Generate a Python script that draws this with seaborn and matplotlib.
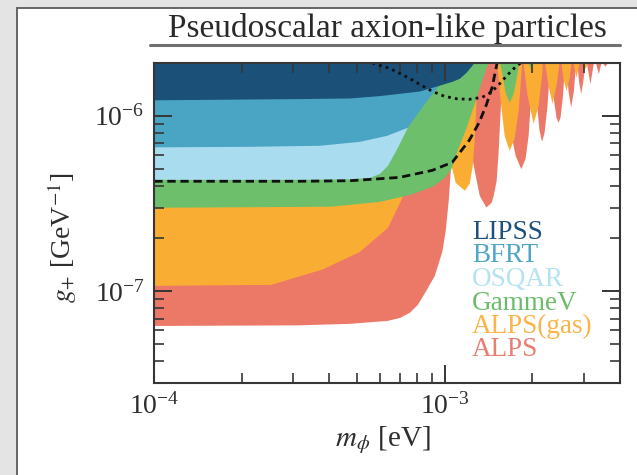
import matplotlib
matplotlib.use("Agg")
import matplotlib.pyplot as plt
import seaborn as sns
import pandas as pd
from matplotlib.patches import Rectangle
from matplotlib.lines import Line2D
from matplotlib.ticker import NullFormatter

# ---------------- data (mass m_phi [eV], coupling g_+ [GeV^-1]) ----------------
G_TOP = 1e-5  # limits run off the top of the chart (regions are "above the curve")

lipss_m = [1.0e-4, 3.16e-4, 4.70e-4, 5.95e-4, 8.16e-4, 9.56e-4, 1.06e-3, 1.12e-3, 1.18e-3, 1.23e-3, 1.26e-3, 1.29e-3]
lipss_g = [1.23e-6, 1.25e-6, 1.26e-6, 1.30e-6, 1.38e-6, 1.49e-6, 1.57e-6, 1.63e-6, 1.76e-6, 1.91e-6, 2.01e-6, 2.68e-6]

bfrt_m = [1.0e-4, 2.13e-4, 3.70e-4, 5.08e-4, 6.29e-4, 7.42e-4, 8.16e-4, 8.70e-4, 9.34e-4, 9.95e-4, 1.05e-3, 1.085e-3, 1.12e-3]
bfrt_g = [6.64e-7, 6.69e-7, 6.78e-7, 7.14e-7, 7.72e-7, 8.58e-7, 1.072e-6, 1.238e-6, 1.43e-6, 1.63e-6, 1.86e-6, 2.01e-6, 2.35e-6]

osqar_m = [1.0e-4, 3.16e-4, 4.70e-4, 5.50e-4, 5.95e-4, 6.34e-4, 6.86e-4, 7.42e-4, 8.03e-4, 8.56e-4, 8.97e-4, 9.19e-4]
osqar_g = [4.34e-7, 4.34e-7, 4.37e-7, 4.45e-7, 4.69e-7, 5.21e-7, 6.60e-7, 8.58e-7, 1.145e-6, 1.49e-6, 2.01e-6, 2.51e-6]

gammev_m = [1.0e-4, 4.01e-4, 5.95e-4, 7.54e-4, 9.04e-4, 9.95e-4, 1.05e-3, 1.101e-3, 1.146e-3, 1.183e-3,
            1.231e-3, 1.281e-3, 1.332e-3, 1.375e-3, 1.408e-3, 1.419e-3, 1.530e-3,
            1.542e-3, 1.573e-3, 1.610e-3, 1.662e-3, 1.716e-3, 1.757e-3, 1.792e-3, 1.806e-3, 1.924e-3,
            1.932e-3, 1.962e-3, 1.994e-3, 2.010e-3]
gammev_g = [3.01e-7, 3.05e-7, 3.25e-7, 3.56e-7, 3.96e-7, 4.45e-7, 5.01e-7, 6.35e-7, 7.52e-7, 8.58e-7,
            1.044e-6, 1.271e-6, 1.547e-6, 1.81e-6, 2.0e-6, G_TOP, G_TOP,
            2.0e-6, 1.696e-6, 1.357e-6, 1.19e-6, 1.339e-6, 1.63e-6, 2.0e-6, G_TOP, G_TOP,
            2.0e-6, 1.86e-6, 2.0e-6, G_TOP]

alps_gas_m = [1.0e-4, 2.515e-4, 3.79e-4, 5.08e-4, 6.34e-4, 7.03e-4, 7.66e-4, 8.29e-4, 8.84e-4, 9.26e-4, 9.56e-4, 9.67e-4,
              9.79e-4, 1.010e-3, 1.043e-3, 1.085e-3, 1.165e-3, 1.212e-3, 1.241e-3, 1.260e-3, 1.275e-3, 1.291e-3, 1.301e-3, 1.494e-3,
              1.506e-3, 1.548e-3, 1.598e-3, 1.662e-3, 1.729e-3, 1.785e-3, 1.828e-3, 1.842e-3,
              1.856e-3, 1.916e-3, 2.010e-3, 2.091e-3, 2.158e-3, 2.175e-3,
              2.201e-3, 2.262e-3, 2.335e-3, 2.410e-3, 2.468e-3, 2.487e-3,
              2.506e-3, 2.547e-3, 2.608e-3, 2.671e-3, 2.713e-3, 2.735e-3,
              2.756e-3, 2.822e-3, 2.890e-3, 2.913e-3,
              2.959e-3, 3.030e-3, 3.103e-3, 3.127e-3]
alps_gas_g = [1.082e-7, 1.096e-7, 1.343e-7, 1.689e-7, 2.313e-7, 3.296e-7, 4.57e-7, 6.35e-7, 9.40e-7, 1.393e-6, 2.0e-6, G_TOP,
              2.0e-6, 8.25e-7, 5.42e-7, 4.17e-7, 3.76e-7, 4.12e-7, 5.21e-7, 7.235e-7, 1.072e-6, 2.0e-6, G_TOP, G_TOP,
              2.0e-6, 1.222e-6, 7.72e-7, 6.35e-7, 7.43e-7, 1.072e-6, 1.81e-6, G_TOP,
              2.0e-6, 1.305e-6, 9.04e-7, 1.145e-6, 1.81e-6, G_TOP,
              2.0e-6, 1.488e-6, 1.175e-6, 1.488e-6, 2.0e-6, G_TOP,
              2.0e-6, 1.63e-6, 1.393e-6, 1.63e-6, 2.0e-6, G_TOP,
              2.0e-6, 1.652e-6, 2.0e-6, G_TOP,
              2.0e-6, 1.859e-6, 2.0e-6, G_TOP]

alps_m = [1.0e-4, 3.16e-4, 4.70e-4, 6.34e-4, 6.97e-4, 7.54e-4, 8.03e-4, 8.49e-4, 9.19e-4, 9.75e-4, 1.002e-3, 1.026e-3, 1.043e-3, 1.055e-3, 1.064e-3, 1.072e-3, 1.076e-3,
          1.085e-3, 1.137e-3, 1.193e-3, 1.251e-3, 1.312e-3, 1.382e-3, 1.441e-3, 1.465e-3, 1.500e-3, 1.524e-3, 1.548e-3, 1.567e-3, 1.573e-3, 1.585e-3,
          1.598e-3, 1.636e-3, 1.689e-3, 1.743e-3, 1.823e-3, 1.886e-3, 1.932e-3, 1.962e-3, 1.986e-3, 1.994e-3, 2.002e-3,
          2.018e-3, 2.058e-3, 2.107e-3, 2.149e-3, 2.192e-3, 2.244e-3, 2.280e-3, 2.289e-3, 2.298e-3,
          2.316e-3, 2.363e-3, 2.410e-3, 2.448e-3, 2.487e-3, 2.537e-3, 2.577e-3, 2.587e-3,
          2.608e-3, 2.649e-3, 2.706e-3, 2.767e-3, 2.811e-3, 2.822e-3,
          2.844e-3, 2.878e-3, 2.929e-3, 2.982e-3, 3.030e-3, 3.042e-3,
          3.066e-3, 3.152e-3, 3.240e-3, 3.266e-3,
          3.292e-3, 3.371e-3, 3.439e-3, 3.452e-3,
          3.479e-3, 3.549e-3, 3.620e-3, 3.634e-3,
          3.663e-3, 3.707e-3, 3.751e-3, 3.781e-3]
alps_g = [6.40e-8, 6.45e-8, 6.58e-8, 6.84e-8, 7.11e-8, 7.60e-8, 8.43e-8, 9.80e-8, 1.234e-7, 1.689e-7, 2.225e-7, 3.296e-7, 4.884e-7, 7.235e-7, 1.072e-6, 2.0e-6, G_TOP,
          2.0e-6, 1.222e-6, 8.25e-7, 5.21e-7, 3.52e-7, 3.02e-7, 3.21e-7, 3.52e-7, 4.28e-7, 6.35e-7, 1.072e-6, 1.696e-6, 2.0e-6, G_TOP,
          2.0e-6, 1.222e-6, 7.72e-7, 5.94e-7, 4.99e-7, 5.71e-7, 7.72e-7, 1.145e-6, 1.696e-6, 2.0e-6, G_TOP,
          2.0e-6, 1.222e-6, 8.25e-7, 7.14e-7, 8.03e-7, 1.145e-6, 1.696e-6, 2.0e-6, G_TOP,
          2.0e-6, 1.222e-6, 9.78e-7, 9.16e-7, 9.78e-7, 1.305e-6, 2.0e-6, G_TOP,
          2.0e-6, 1.393e-6, 1.119e-6, 1.393e-6, 2.0e-6, G_TOP,
          2.0e-6, 1.588e-6, 1.334e-6, 1.588e-6, 2.0e-6, G_TOP,
          2.0e-6, 1.521e-6, 2.0e-6, G_TOP,
          2.0e-6, 1.734e-6, 2.0e-6, G_TOP,
          2.0e-6, 1.908e-6, 2.0e-6, G_TOP,
          2.0e-6, 1.972e-6, 2.0e-6, G_TOP]

dashed_m = [1.0e-4, 3.16e-4, 4.70e-4, 6.97e-4, 9.04e-4, 1.059e-3, 1.212e-3, 1.312e-3, 1.386e-3, 1.453e-3, 1.512e-3, 1.536e-3]
dashed_g = [4.23e-7, 4.23e-7, 4.26e-7, 4.45e-7, 4.88e-7, 5.42e-7, 7.235e-7, 9.16e-7, 1.145e-6, 1.449e-6, 2.0e-6, 2.35e-6]

dotted_m = [5.41e-4, 5.59e-4, 5.95e-4, 6.44e-4, 6.97e-4, 7.54e-4, 8.29e-4, 9.04e-4, 9.95e-4, 1.101e-3, 1.212e-3,
            1.343e-3, 1.441e-3, 1.536e-3, 1.636e-3, 1.743e-3, 1.828e-3, 1.872e-3]
dotted_g = [2.35e-6, 2.0e-6, 1.933e-6, 1.859e-6, 1.741e-6, 1.63e-6, 1.488e-6, 1.375e-6, 1.288e-6, 1.246e-6, 1.238e-6,
            1.271e-6, 1.357e-6, 1.507e-6, 1.696e-6, 1.883e-6, 2.0e-6, 2.35e-6]

experiments = ["LIPSS", "BFRT", "OSQAR", "GammeV", "ALPS(gas)", "ALPS"]
fill_colors = {"LIPSS": "#1b5079", "BFRT": "#4aa4c3", "OSQAR": "#aadcf0",
               "GammeV": "#6dbf6b", "ALPS(gas)": "#f9ae33", "ALPS": "#ec7868"}
text_colors = {"LIPSS": "#1f4f7d", "BFRT": "#4fa5c6", "OSQAR": "#b4e2f3",
               "GammeV": "#6cbb6a", "ALPS(gas)": "#fcb347", "ALPS": "#ea7d72"}
curves = {"LIPSS": (lipss_m, lipss_g), "BFRT": (bfrt_m, bfrt_g), "OSQAR": (osqar_m, osqar_g),
          "GammeV": (gammev_m, gammev_g), "ALPS(gas)": (alps_gas_m, alps_gas_g), "ALPS": (alps_m, alps_g)}

title = "Pseudoscalar axion-like particles"
xlabel = r"$m_{\phi}$ [eV]"
ylabel = r"$g_{+}$ [GeV$^{-1}$]"

# ---------------- style ----------------
sns.set_style("ticks")
plt.rcParams["font.family"] = ["Liberation Serif", "DejaVu Serif"]
plt.rcParams["mathtext.fontset"] = "stix"
plt.rcParams["axes.unicode_minus"] = True
INK = "#363636"

fig = plt.figure(figsize=(6.37, 4.75), dpi=100)
fig.patch.set_facecolor("#e4e4e4")
fig.add_artist(Rectangle((17 / 637, -0.05), 1.0, 1 - 8 / 475 + 0.05, transform=fig.transFigure,
                         facecolor="white", edgecolor="#5a5a5a", lw=1.3, zorder=-10))

ax = fig.add_axes([0.2422, 0.1931, 0.7311, 0.6749])
ax.set_xscale("log")
ax.set_yscale("log")

# exclusion regions: lowest-priority first
for name in experiments[::-1]:
    m, g = curves[name]
    assert len(m) == len(g), name
    ax.fill_between(m, g, G_TOP, color=fill_colors[name], lw=0, zorder=1)

dash_df = pd.DataFrame({"m": dashed_m, "g": dashed_g})
dot_df = pd.DataFrame({"m": dotted_m, "g": dotted_g})
sns.lineplot(data=dash_df, x="m", y="g", ax=ax, color="#111111", lw=2.0, estimator=None, sort=False,
             linestyle=(0, (3.0, 1.7)), zorder=3)
sns.lineplot(data=dot_df, x="m", y="g", ax=ax, color="#111111", lw=2.0, estimator=None, sort=False,
             linestyle=(0, (1.0, 1.5)), zorder=3)

ax.set_xlim(1e-4, 4e-3)
ax.set_ylim(3e-8, 2e-6)
ax.set_xlabel("")
ax.set_ylabel("")

for s in ax.spines.values():
    s.set_color(INK)
    s.set_linewidth(1.5)
    s.set_zorder(5)
ax.tick_params(which="both", direction="in", top=True, right=True, color=INK, labelcolor="#2e2e2e")
ax.tick_params(which="major", length=13, width=1.4, labelsize=20, pad=7)
ax.tick_params(which="minor", length=7, width=1.2)
ax.xaxis.set_minor_formatter(NullFormatter())
ax.yaxis.set_minor_formatter(NullFormatter())
ax.set_axisbelow(False)

# text legend
ys = [0.450, 0.377, 0.3035, 0.230, 0.157, 0.0836]
for name, yy in zip(experiments, ys):
    ax.text(0.682, yy, name, transform=ax.transAxes, color=text_colors[name], fontsize=19.5,
            va="baseline", ha="left", zorder=6)

# title with rule underneath
fig.text(0.6075, 1 - 37 / 475, title, ha="center", va="baseline", fontsize=24, color="#2a2a2a")
fig.add_artist(Line2D([150 / 637, 620 / 637], [1 - 45 / 475] * 2, color="#707070", lw=2.2))

fig.text(383 / 637, 1 - 440 / 475, xlabel, ha="center", va="center", fontsize=21, color="#2e2e2e")
fig.text(62 / 637, 1 - 238 / 475, ylabel, ha="center", va="center", rotation=90, fontsize=20, color="#2e2e2e")

fig.savefig("out.png", dpi=100)
